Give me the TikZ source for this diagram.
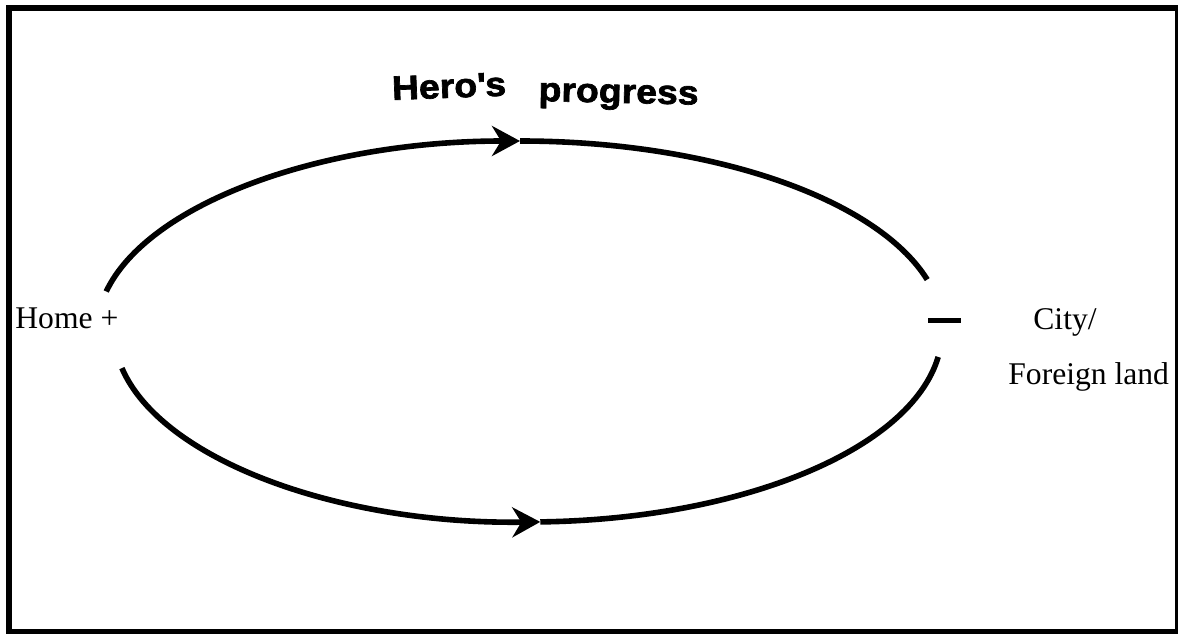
\documentclass[tikz,border=0pt]{standalone}
\usepackage{fontspec}
\setmainfont{Liberation Serif}
\newfontfamily\herofont[FakeStretch=1.1, FakeBold=2]{Liberation Sans}
\usetikzlibrary{arrows.meta,positioning,calc}

\begin{document}
\begin{tikzpicture}[
    x=0.5pt, y=0.5pt,
    place/.style={inner sep=0pt, anchor=base west, font=\fontsize{15.8}{19}\selectfont},
    heading/.style={inner sep=0pt, anchor=base west, font=\herofont\bfseries\fontsize{17}{20}\selectfont},
    route/.style={line width=2.8pt},
    arrow/.style={route, -{Stealth[length=14pt, width=15pt, inset=4.5pt]}}
]
\useasboundingbox (0,0) rectangle (1178,633);
\draw[line width=3pt] (9,1) rectangle (1178,625);

% labels
\node[place] (home) at (15,305) {Home +};
\node[place] (city) at (1033,304) {City/};
\node[place] (foreign) at (1008,249) {Foreign land};
\node[heading, rotate=2.2] (hero) at (392,533) {Hero\textquotesingle s};
\node[heading, rotate=-1.3] (progress) at (538,532) {progress};

% the two halves of the journey
\coordinate (upperC) at (520,302);
\coordinate (lowerC) at (528,302);
\coordinate (homeTop) at ($(upperC)+(168:423 and 190)$);
\coordinate (homeBot) at ($(lowerC)+(191.2:414 and 191)$);
\draw[arrow] (homeTop) arc[start angle=168, end angle=90, x radius=423, y radius=190] coordinate (topTip);
\draw[route] (topTip) arc[start angle=90, end angle=15.7, x radius=423, y radius=190] coordinate (cityTop);
\draw[arrow] (homeBot) arc[start angle=191.2, end angle=271.7, x radius=414, y radius=191] coordinate (botTip);
\draw[route] (botTip) arc[start angle=271.7, end angle=352.2, x radius=414, y radius=191] coordinate (cityBot);

% minus sign at the city end
\coordinate (minusL) at (928,312.5);
\coordinate (minusR) at (961,312.5);
\draw[route] (minusL) -- (minusR);
\end{tikzpicture}
\end{document}
